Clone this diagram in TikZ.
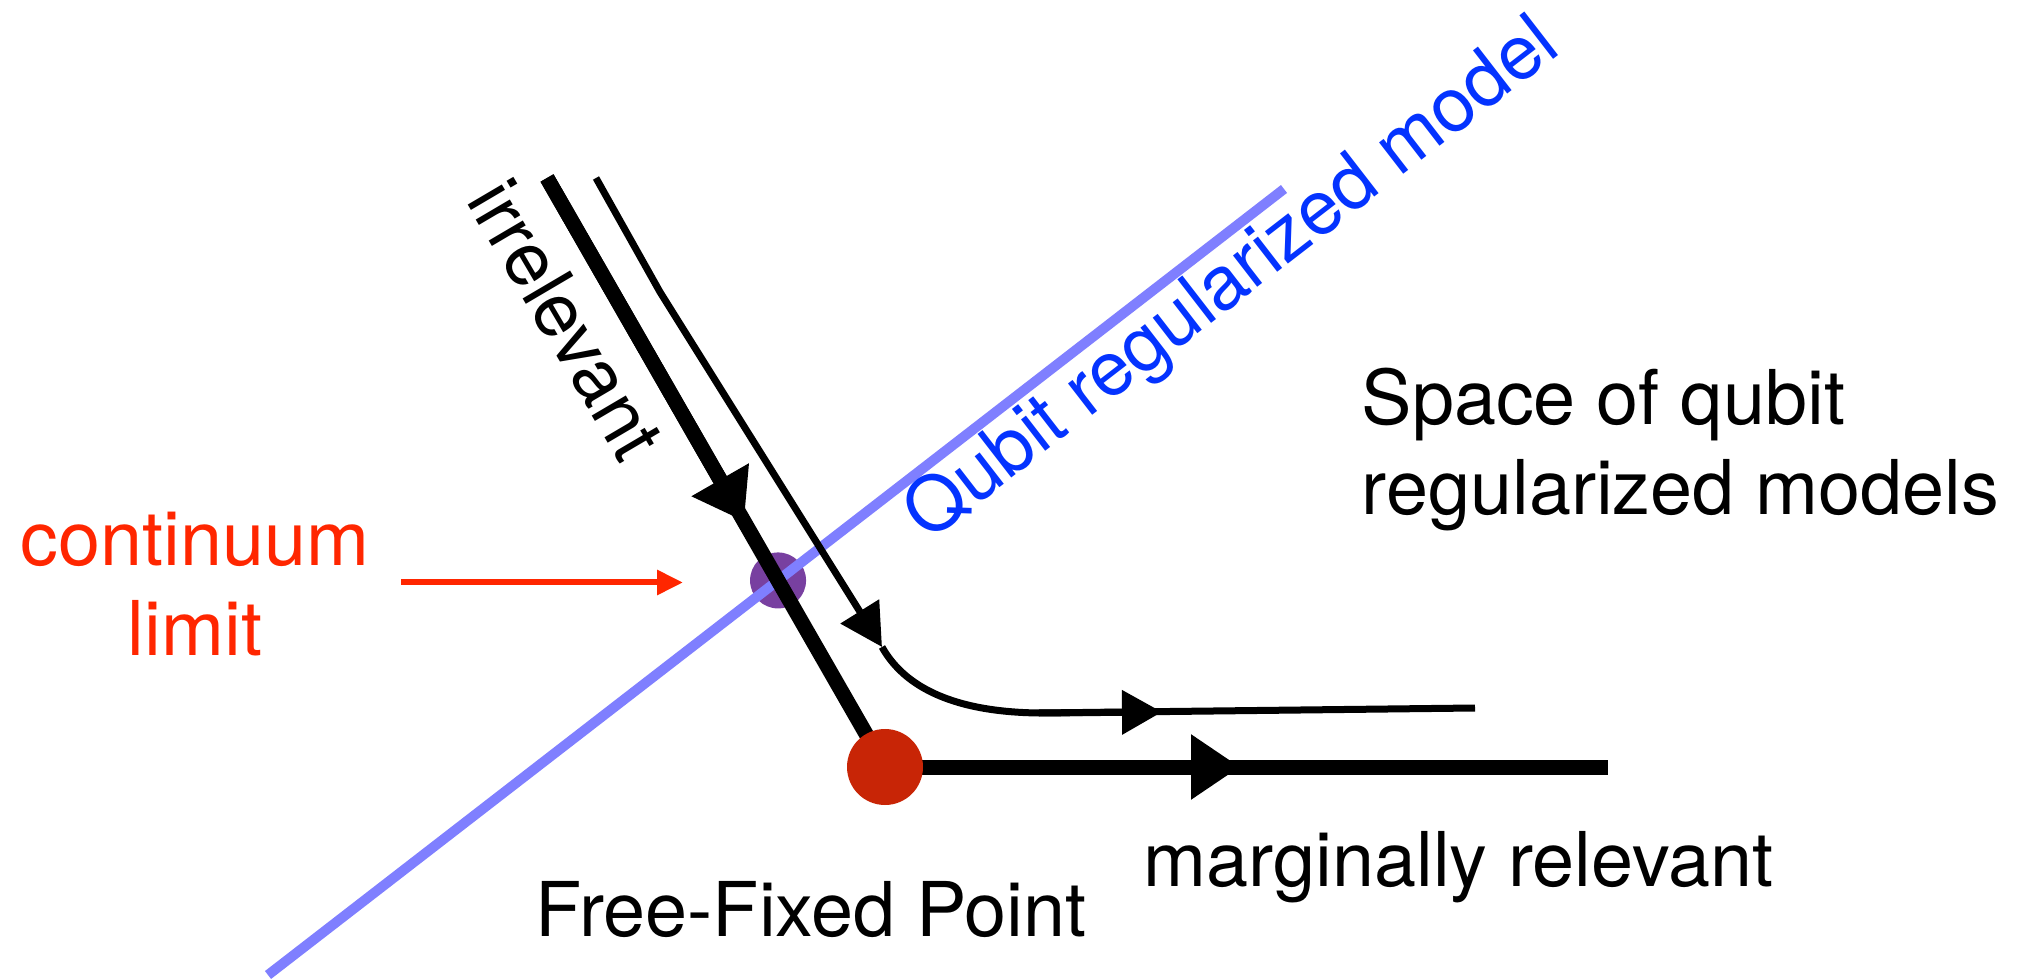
\documentclass[tikz,border=0pt]{standalone}
\usepackage{fontspec}
\setmainfont{TeX Gyre Heros}
\usepackage{tikz}
\usetikzlibrary{arrows.meta,calc}

\definecolor{qubitline}{RGB}{127,127,255}
\definecolor{qubittext}{RGB}{4,51,255}
\definecolor{limitred}{RGB}{255,38,0}
\definecolor{fixedred}{RGB}{200,37,6}
\definecolor{limitpurple}{RGB}{120,64,160}

\begin{document}
\begin{tikzpicture}[
    lbl/.style={inner sep=0pt, font=\fontsize{21.5}{25.7}\selectfont},
    bigflow/.style={line width=0.15cm},
    smallflow/.style={line width=0.07cm},
    bigtip/.style={-{Triangle[length=0.48cm, width=0.63cm]}},
    smalltip/.style={-{Triangle[length=0.42cm, width=0.44cm]}}
]
    \useasboundingbox (0,0) rectangle (20.17,9.78);

    % line of qubit models and the two flows
    \coordinate (qa) at (2.68,0.03);
    \coordinate (qb) at (12.84,7.89);
    \coordinate (ta) at (5.47,8.00);
    \coordinate (fp) at (8.85,2.11);
    \coordinate (fe) at (16.08,2.11);
    \coordinate (cl) at (intersection of ta--fp and qa--qb);

    \fill[limitpurple] (cl) circle (0.28);
    \draw[qubitline, line width=0.1cm] (qa) -- (qb);

    % irrelevant flow into the fixed point
    \coordinate (tm) at ($(ta)!0.583!(fp)$);
    \draw[bigflow] (ta) -- (fp);
    \draw[bigflow, bigtip] (ta) -- (tm);

    % marginally relevant direction
    \coordinate (fm) at (12.40,2.11);
    \draw[bigflow] (fp) -- (fe);
    \draw[bigflow, -{Triangle[length=0.49cm, width=0.62cm]}] (fp) -- (fm);

    % flow passing next to the fixed point
    \coordinate (sa) at (5.96,8.00);
    \coordinate (sb) at (6.60,6.86);
    \coordinate (sc) at (8.82,3.31);
    \coordinate (sd) at (10.39,2.65);
    \coordinate (se) at (11.62,2.66);
    \coordinate (sf) at (14.75,2.70);
    \draw[smallflow, smalltip] (sa) -- (sb) -- (sc);
    \draw[smallflow] (sc) .. controls (9.05,2.90) and (9.55,2.66) .. (sd) -- (sf);
    \draw[smallflow, -{Triangle[length=0.40cm, width=0.43cm]}] (sd) -- (se);

    \fill[fixedred] (fp) circle (0.38);

    % continuum limit pointer
    \coordinate (ra) at (4.01,3.955);
    \coordinate (rb) at (6.83,3.955);
    \draw[limitred, line width=0.06cm, -{Triangle[length=0.26cm, width=0.24cm]}] (ra) -- (rb);

    \node[lbl, limitred, align=center, anchor=base] (climit) at (1.95,3.22) {continuum\\limit};
    \node[lbl, rotate=-59.5, anchor=base west] (irr) at (4.65,7.78) {irrelevant};
    \node[lbl, qubittext, rotate=37.7, anchor=base west] (qlabel) at (9.28,4.355) {Qubit regularized model};
    \node[lbl, align=left, anchor=base west] (space) at (13.61,4.63) {Space of qubit\\regularized models};
    \node[lbl, anchor=base west] (marg) at (11.43,0.913) {marginally relevant};
    \node[lbl, anchor=base west] (ffp) at (5.35,0.413) {Free-Fixed Point};
\end{tikzpicture}
\end{document}
